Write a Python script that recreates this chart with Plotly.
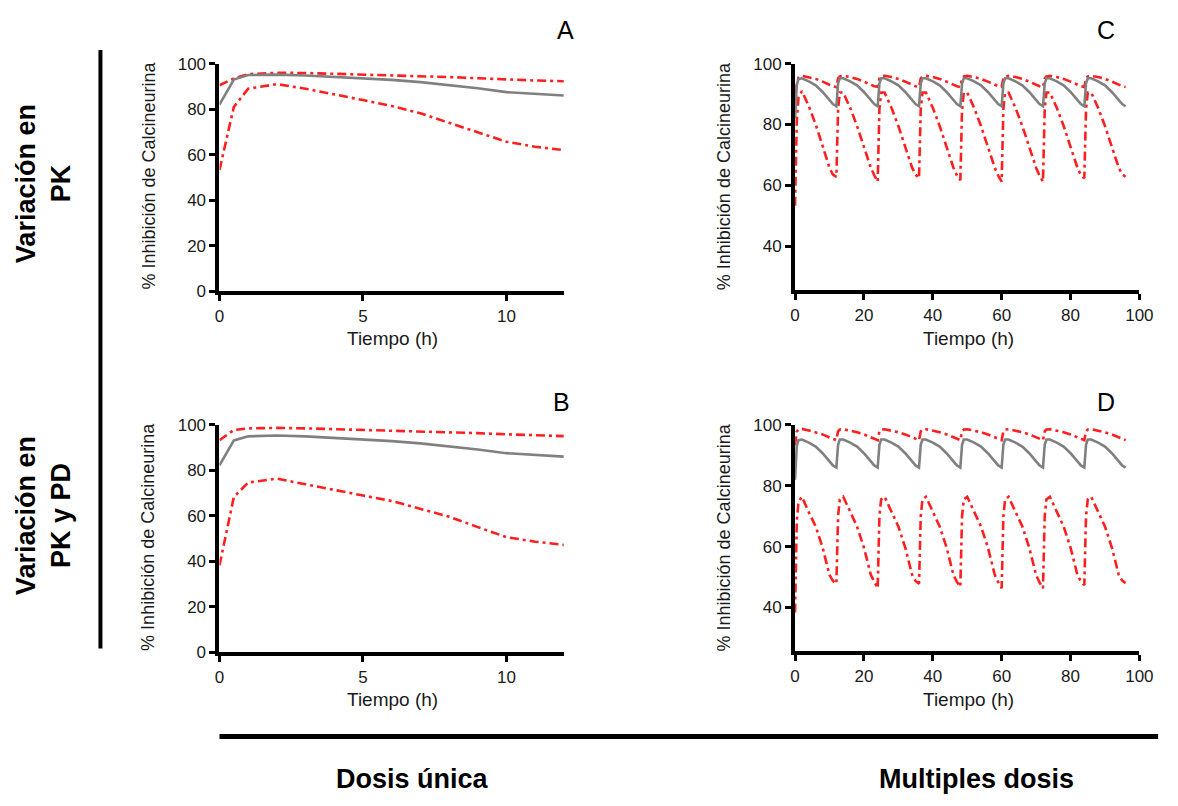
import plotly.graph_objects as go

# ---------------- data ----------------
# Single dose: time (h) and % calcineurin inhibition (median, 5th and 95th percentiles)
t_single = [0, 0.5, 1, 2, 3, 4, 5, 6, 7, 8, 9, 10, 11, 12]

A_median = [82, 93, 95, 95.2, 94.8, 94.2, 93.6, 92.9, 91.9, 90.7, 89.2, 87.5, 86.6, 86]
A_upper = [90.5, 93.5, 95.4, 96, 95.9, 95.6, 95.3, 95, 94.6, 94.1, 93.6, 93, 92.6, 92.3]
A_lower = [53.3, 81, 89, 91, 89, 86.6, 84, 81.4, 78.2, 74, 69.7, 65.7, 63.5, 62]

B_median = [82.3, 93.2, 95, 95.4, 95, 94.4, 93.7, 92.9, 91.9, 90.7, 89.2, 87.6, 86.8, 86.1]
B_upper = [93.3, 97.8, 98.5, 98.7, 98.5, 98.2, 97.9, 97.6, 97.3, 96.9, 96.4, 95.9, 95.5, 95.1]
B_lower = [38.3, 68.3, 74.7, 76.4, 73.9, 71.3, 69, 66.6, 63.3, 59.7, 55.1, 50.7, 48.7, 47.3]

# Multiple doses every 12 h: sampling times within each dosing interval
dose_times = [0, 12, 24, 36, 48, 60, 72, 84]
offsets = [0, 0.5, 1, 2, 4, 6, 8, 10, 11]
t_end = 96

# one row per dosing interval, then the value at t_end
C_median = [
    [82, 93, 95, 95.2, 94.2, 92.9, 90.7, 87.8, 86.7],
    [86, 93.5, 95.2, 95.2, 94.2, 92.9, 90.7, 87.8, 86.7],
    [86, 93.5, 95.2, 95.2, 94.2, 92.9, 90.7, 87.8, 86.7],
    [86, 93.5, 95.2, 95.2, 94.2, 92.9, 90.7, 87.8, 86.7],
    [86, 93.5, 95.2, 95.2, 94.2, 92.9, 90.7, 87.8, 86.7],
    [86, 93.5, 95.2, 95.2, 94.2, 92.9, 90.7, 87.8, 86.7],
    [86, 93.5, 95.2, 95.2, 94.2, 92.9, 90.7, 87.8, 86.7],
    [86, 93.5, 95.2, 95.2, 94.2, 92.9, 90.7, 87.8, 86.7],
]
C_median_end = 86
C_upper = [
    [90.5, 93.5, 95.4, 96, 95.6, 95, 94.1, 93, 92.6],
    [92.3, 95.2, 95.8, 96, 95.6, 95, 94.1, 93, 92.6],
    [92.4, 95.2, 95.8, 96, 95.6, 95, 94.1, 93, 92.6],
    [92.3, 95.2, 95.8, 96, 95.6, 95, 94.1, 93, 92.6],
    [92.3, 95.2, 95.8, 96, 95.6, 95, 94.1, 93, 92.6],
    [92.4, 95.2, 95.8, 96, 95.6, 95, 94.1, 93, 92.6],
    [92.3, 95.2, 95.8, 96, 95.6, 95, 94.1, 93, 92.6],
    [92.3, 95.2, 95.8, 96, 95.6, 95, 94.1, 93, 92.6],
]
C_upper_end = 92.3
C_lower = [
    [53.3, 81, 89, 91, 86, 80, 73, 65.7, 63.5],
    [62.8, 85, 90.5, 90.5, 85.5, 79.5, 72.5, 65.8, 63.3],
    [61.2, 85, 90.5, 90.5, 85.5, 79.5, 72.5, 65.8, 63.5],
    [62.3, 85, 90.5, 90.5, 85.5, 79.5, 72.5, 65.8, 63.3],
    [61.7, 85, 90.5, 90.5, 85.5, 79.5, 72.5, 65.8, 63.2],
    [61.2, 85, 90.5, 90.5, 85.5, 79.5, 72.5, 65.8, 63.2],
    [61.2, 85, 90.5, 90.5, 85.5, 79.5, 72.5, 65.8, 63.4],
    [62.3, 85, 90.5, 90.5, 85.5, 79.5, 72.5, 65.8, 63.6],
]
C_lower_end = 62.8

D_median = [
    [82, 93, 95, 95.2, 94.2, 92.9, 90.7, 87.8, 86.7],
    [86, 93.5, 95.2, 95.2, 94.2, 92.9, 90.7, 87.8, 86.7],
    [86, 93.5, 95.2, 95.2, 94.2, 92.9, 90.7, 87.8, 86.7],
    [86, 93.5, 95.2, 95.2, 94.2, 92.9, 90.7, 87.8, 86.7],
    [86, 93.5, 95.2, 95.2, 94.2, 92.9, 90.7, 87.8, 86.7],
    [86, 93.5, 95.2, 95.2, 94.2, 92.9, 90.7, 87.8, 86.7],
    [86, 93.5, 95.2, 95.2, 94.2, 92.9, 90.7, 87.8, 86.7],
    [86, 93.5, 95.2, 95.2, 94.2, 92.9, 90.7, 87.8, 86.7],
]
D_median_end = 86
D_upper = [
    [93.3, 97.8, 98.5, 98.7, 98.2, 97.6, 96.9, 95.9, 95.5],
    [95, 97.9, 98.5, 98.6, 98.2, 97.6, 96.9, 95.9, 95.4],
    [95, 97.9, 98.5, 98.6, 98.2, 97.6, 96.9, 95.9, 95.5],
    [95, 97.9, 98.5, 98.6, 98.2, 97.6, 96.9, 95.9, 95.4],
    [95, 97.9, 98.5, 98.6, 98.2, 97.6, 96.9, 95.9, 95.5],
    [95, 97.9, 98.5, 98.6, 98.2, 97.6, 96.9, 95.9, 95.4],
    [95, 97.9, 98.5, 98.6, 98.2, 97.6, 96.9, 95.9, 95.5],
    [95, 97.9, 98.5, 98.6, 98.2, 97.6, 96.9, 95.9, 95.4],
]
D_upper_end = 95
D_lower = [
    [38.3, 68.3, 74.7, 76.4, 71.3, 66.6, 59.7, 50.7, 48.7],
    [47.8, 70, 75.5, 76.4, 71.3, 66.6, 59.7, 50.7, 48.5],
    [46.3, 70, 75.5, 76.4, 71.3, 66.6, 59.7, 50.7, 48.7],
    [47.8, 70, 75.5, 76.4, 71.3, 66.6, 59.7, 50.7, 48.4],
    [46.8, 70, 75.5, 76.4, 71.3, 66.6, 59.7, 50.7, 48.3],
    [46.3, 70, 75.5, 76.4, 71.3, 66.6, 59.7, 50.7, 48.2],
    [46.3, 70, 75.5, 76.4, 71.3, 66.6, 59.7, 50.7, 48.6],
    [47.3, 70, 75.5, 76.4, 71.3, 66.6, 59.7, 50.7, 48.8],
]
D_lower_end = 48

y_title = "% Inhibición de Calcineurina"
x_title = "Tiempo (h)"
panel_letters = ["A", "B", "C", "D"]
row_labels = ["Variación en<br>PK", "Variación en<br>PK y PD"]
col_labels = ["Dosis única", "Multiples dosis"]

# ---------------- helpers ----------------
W, H = 1178, 806
FONT = "Liberation Sans, Arial, Helvetica, sans-serif"
GRAY = "#808080"
RED = "#ff1f1f"


def fx(p):
    return p / W


def fy(p):
    return 1 - p / H


t_multi = [d + o for d in dose_times for o in offsets] + [t_end]


def flatten(rows, end):
    return [v for r in rows for v in r] + [end]


fig = go.Figure()


def add_panel(idx, t, med, up, lo):
    xa = "x" if idx == 1 else f"x{idx}"
    ya = "y" if idx == 1 else f"y{idx}"
    for vals in (up, lo):
        fig.add_trace(go.Scatter(x=t, y=vals, mode="lines", xaxis=xa, yaxis=ya,
                                 line=dict(color=RED, width=2.6, dash="9px,4px,3px,4px"),
                                 showlegend=False, hoverinfo="skip"))
    fig.add_trace(go.Scatter(x=t, y=med, mode="lines", xaxis=xa, yaxis=ya,
                             line=dict(color=GRAY, width=2.6),
                             showlegend=False, hoverinfo="skip"))


add_panel(1, t_single, A_median, A_upper, A_lower)
add_panel(2, t_single, B_median, B_upper, B_lower)
add_panel(3, t_multi, flatten(C_median, C_median_end),
          flatten(C_upper, C_upper_end), flatten(C_lower, C_lower_end))
add_panel(4, t_multi, flatten(D_median, D_median_end),
          flatten(D_upper, D_upper_end), flatten(D_lower, D_lower_end))

axis_common = dict(showgrid=False, zeroline=False, showline=True, linecolor="black",
                   linewidth=4, ticks="outside", ticklen=6, tickwidth=3, tickcolor="black",
                   tickfont=dict(family=FONT, size=17, color="#1a1a1a"), fixedrange=True)

# pixel boxes of the four plot areas: (left, right, top, bottom)
boxes = {1: (218, 568, 56, 289), 2: (218, 568, 426, 659),
         3: (803, 1153, 56, 288), 4: (803, 1153, 426, 658)}

layout = dict(width=W, height=H, margin=dict(l=0, r=0, t=0, b=0),
              paper_bgcolor="white", plot_bgcolor="white", showlegend=False)
for i, (l, r, t, b) in boxes.items():
    xk = "xaxis" if i == 1 else f"xaxis{i}"
    yk = "yaxis" if i == 1 else f"yaxis{i}"
    ya = "y" if i == 1 else f"y{i}"
    xa = "x" if i == 1 else f"x{i}"
    if i in (1, 2):
        xr, xt = [0, 12], [0, 5, 10]
        yr, yt = [0, 100], [0, 20, 40, 60, 80, 100]
    else:
        xr, xt = [0, 100], [0, 20, 40, 60, 80, 100]
        yr, yt = [25.5, 100], [40, 60, 80, 100]
    layout[xk] = dict(axis_common, domain=[fx(l), fx(r)], anchor=ya, range=xr, tickvals=xt)
    layout[yk] = dict(axis_common, domain=[fy(b), fy(t)], anchor=xa, range=yr, tickvals=yt)

fig.update_layout(**layout)

ann = []
# panel letters
for letter, (px, py) in zip(panel_letters, [(570, 22), (566, 402), (1119, 22), (1119, 402)]):
    ann.append(dict(text=letter, x=fx(px), y=fy(py), xref="paper", yref="paper",
                    showarrow=False, xanchor="center", yanchor="middle",
                    font=dict(family=FONT, size=25, color="black")))
# axis titles
for (px, py) in [(146, 171), (146, 541), (731, 171), (731, 541)]:
    ann.append(dict(text=y_title, x=fx(px), y=fy(py), xref="paper", yref="paper",
                    showarrow=False, textangle=-90, xanchor="center", yanchor="middle",
                    font=dict(family=FONT, size=18, color="#1a1a1a")))
for (px, py) in [(394, 337), (394, 707), (979, 337), (979, 707)]:
    ann.append(dict(text=x_title, x=fx(px), y=fy(py), xref="paper", yref="paper",
                    showarrow=False, xanchor="center", yanchor="middle",
                    font=dict(family=FONT, size=19, color="#1a1a1a")))
# row and column headers
for lab, py in zip(row_labels, [179, 519]):
    ann.append(dict(text="<b>" + lab + "</b>", x=fx(39), y=fy(py), xref="paper", yref="paper",
                    showarrow=False, textangle=-90, xanchor="center", yanchor="middle",
                    align="center", font=dict(family=FONT, size=27, color="black")))
for lab, px in zip(col_labels, [414, 987]):
    ann.append(dict(text="<b>" + lab + "</b>", x=fx(px), y=fy(789), xref="paper", yref="paper",
                    showarrow=False, xanchor="center", yanchor="middle",
                    font=dict(family=FONT, size=27, color="black")))
fig.update_layout(annotations=ann)

# divider lines
fig.add_shape(type="line", xref="paper", yref="paper", x0=fx(97), x1=fx(97),
              y0=fy(42), y1=fy(655), line=dict(color="black", width=4))
fig.add_shape(type="line", xref="paper", yref="paper", x0=fx(218), x1=fx(1172),
              y0=fy(745), y1=fy(745), line=dict(color="black", width=5))

# drop the default body margin so the figure sits flush at the top-left of the page
fig.write_html("out.html", config={"displayModeBar": False},
               post_script="document.body.style.margin = '0';")
